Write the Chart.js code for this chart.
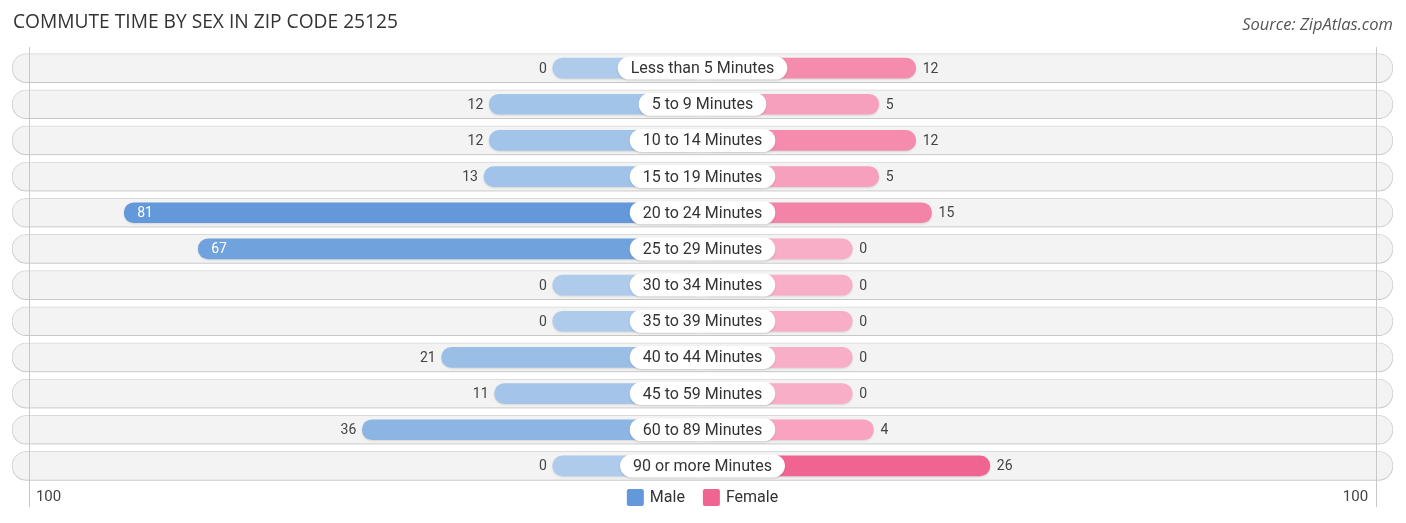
<!DOCTYPE html>
<html>
<head>
<meta charset="utf-8">
<script src="https://cdn.jsdelivr.net/npm/chart.js@4.4.1/dist/chart.umd.min.js"></script>
<style>
  html, body { margin: 0; padding: 0; background: #ffffff; }
  #wrap { width: 1406px; height: 523px; position: relative; }
</style>
</head>
<body>
<div id="wrap"><canvas id="commuteChart" width="1406" height="523"></canvas></div>
<script>
const categories = [
    'Less than 5 Minutes', '5 to 9 Minutes', '10 to 14 Minutes', '15 to 19 Minutes',
    '20 to 24 Minutes', '25 to 29 Minutes', '30 to 34 Minutes', '35 to 39 Minutes',
    '40 to 44 Minutes', '45 to 59 Minutes', '60 to 89 Minutes', '90 or more Minutes'
];
const maleValues = [0, 12, 12, 13, 81, 67, 0, 0, 21, 11, 36, 0];
const femaleValues = [12, 5, 12, 5, 15, 0, 0, 0, 0, 0, 4, 26];
const seriesNames = ['Male', 'Female'];
const axisLabels = ['100', '100'];
const titleText = 'COMMUTE TIME BY SEX IN ZIP CODE 25125';
const sourceText = 'Source: ZipAtlas.com';

// every bar gets a short stub that sits behind the category label
const STUB = 28.3;
const HALF = 130.5;
const GRID = 127.3;
const INSIDE_MIN = 50;

function mix(a, b, t) {
    t = Math.max(0, Math.min(1, t));
    return 'rgb(' + a.map((c, i) => Math.round(c + (b[i] - c) * t)).join(',') + ')';
}

const maleLight = [174, 203, 236], maleStrong = [99, 153, 218];
const femaleLight = [249, 174, 199], femaleStrong = [240, 100, 145];
const maleMax = Math.max(...maleValues);
const femaleMax = Math.max(...femaleValues);

const maleColors = maleValues.map(v => mix(maleLight, maleStrong, v / maleMax));
const femaleColors = femaleValues.map(v => mix(femaleLight, femaleStrong, v / femaleMax));

const overlay = {
    id: 'overlay',
    beforeDatasetsDraw(chart) {
        chart.ctx.save();
        chart.ctx.shadowColor = 'rgba(0,0,0,0.12)';
        chart.ctx.shadowBlur = 2;
        chart.ctx.shadowOffsetY = 1;
    },
    afterDatasetsDraw(chart) {
        const ctx = chart.ctx;
        ctx.restore();
        const x = chart.scales.x, y = chart.scales.y;
        const area = chart.chartArea;
        const cx = x.getPixelForValue(0);

        // vertical guide lines
        ctx.save();
        ctx.strokeStyle = '#c8c8c8';
        ctx.lineWidth = 1;
        [-GRID, GRID].forEach(v => {
            const px = Math.round(x.getPixelForValue(v)) + 0.5;
            ctx.beginPath();
            ctx.moveTo(px, area.top - 3);
            ctx.lineTo(px, area.bottom + 23);
            ctx.stroke();
        });

        // category labels
        ctx.font = '16px Roboto';
        ctx.textAlign = 'center';
        ctx.textBaseline = 'middle';
        categories.forEach((c, i) => {
            const py = y.getPixelForValue(i);
            const w = ctx.measureText(c).width + 26;
            const h = 23;
            ctx.save();
            ctx.shadowColor = 'rgba(0,0,0,0.15)';
            ctx.shadowBlur = 2;
            ctx.shadowOffsetY = 1;
            ctx.fillStyle = '#ffffff';
            ctx.beginPath();
            ctx.roundRect(cx - w / 2, py - h / 2, w, h, h / 2);
            ctx.fill();
            ctx.restore();
            ctx.fillStyle = '#333333';
            ctx.fillText(c, cx, py + 1);
        });

        // value labels
        ctx.font = '14px Roboto';
        maleValues.forEach((v, i) => {
            const py = y.getPixelForValue(i) + 1;
            const end = x.getPixelForValue(-(v + STUB));
            if (v >= INSIDE_MIN) {
                ctx.fillStyle = '#ffffff';
                ctx.textAlign = 'left';
                ctx.fillText(String(v), end + 13, py);
            } else {
                ctx.fillStyle = '#444444';
                ctx.textAlign = 'right';
                ctx.fillText(String(v), end - 6, py);
            }
        });
        femaleValues.forEach((v, i) => {
            const py = y.getPixelForValue(i) + 1;
            const end = x.getPixelForValue(v + STUB);
            if (v >= INSIDE_MIN) {
                ctx.fillStyle = '#ffffff';
                ctx.textAlign = 'right';
                ctx.fillText(String(v), end - 13, py);
            } else {
                ctx.fillStyle = '#444444';
                ctx.textAlign = 'left';
                ctx.fillText(String(v), end + 7, py);
            }
        });

        // axis end labels
        const ly = area.bottom + 13;
        ctx.font = '15px Roboto';
        ctx.fillStyle = '#444444';
        ctx.textAlign = 'left';
        ctx.fillText(axisLabels[0], x.getPixelForValue(-GRID) + 7, ly);
        ctx.textAlign = 'right';
        ctx.fillText(axisLabels[1], x.getPixelForValue(GRID) - 8, ly);

        // legend
        ctx.font = '16px Roboto';
        const swatches = [maleStrong, femaleStrong].map(c => 'rgb(' + c.join(',') + ')');
        const widths = seriesNames.map(n => 17 + 6 + ctx.measureText(n).width);
        const total = widths.reduce((a, b) => a + b, 0) + 18;
        let lx = cx - total / 2;
        seriesNames.forEach((n, i) => {
            ctx.fillStyle = swatches[i];
            ctx.beginPath();
            ctx.roundRect(lx, ly - 8, 17, 17, 2);
            ctx.fill();
            ctx.fillStyle = '#333333';
            ctx.textAlign = 'left';
            ctx.fillText(n, lx + 23, ly + 1);
            lx += widths[i] + 18;
        });

        // title and source
        ctx.textBaseline = 'alphabetic';
        ctx.font = '19.2px "Open Sans"';
        ctx.fillStyle = '#333333';
        ctx.textAlign = 'left';
        ctx.fillText(titleText, 13, 28);
        ctx.font = 'italic 16.5px "Open Sans"';
        ctx.fillStyle = '#555555';
        ctx.textAlign = 'right';
        ctx.fillText(sourceText, 1393, 30);
        ctx.restore();
    }
};

new Chart(document.getElementById('commuteChart'), {
    type: 'bar',
    data: {
        labels: categories,
        datasets: [
            {
                label: seriesNames[0],
                data: maleValues.map(v => [-(v + STUB), 0]),
                backgroundColor: maleColors,
                barThickness: 20,
                borderRadius: 10,
                borderSkipped: false,
                grouped: false,
                order: 0
            },
            {
                label: seriesNames[1],
                data: femaleValues.map(v => [0, v + STUB]),
                backgroundColor: femaleColors,
                barThickness: 20,
                borderRadius: 10,
                borderSkipped: false,
                grouped: false,
                order: 0
            },
            {
                label: 'row',
                data: categories.map(() => [-HALF, HALF]),
                backgroundColor: '#f3f3f3',
                borderColor: '#dadada',
                borderWidth: 1,
                barThickness: 29,
                borderRadius: 15,
                borderSkipped: false,
                grouped: false,
                order: 1
            }
        ]
    },
    options: {
        indexAxis: 'y',
        responsive: false,
        animation: false,
        devicePixelRatio: 1,
        layout: {
            padding: { left: 12, right: 13, top: 50, bottom: 39 }
        },
        plugins: {
            legend: { display: false },
            tooltip: { enabled: false }
        },
        scales: {
            x: {
                type: 'linear',
                min: -HALF,
                max: HALF,
                display: false
            },
            y: {
                type: 'category',
                display: false,
                offset: true
            }
        }
    },
    plugins: [overlay]
});
</script>
</body>
</html>
